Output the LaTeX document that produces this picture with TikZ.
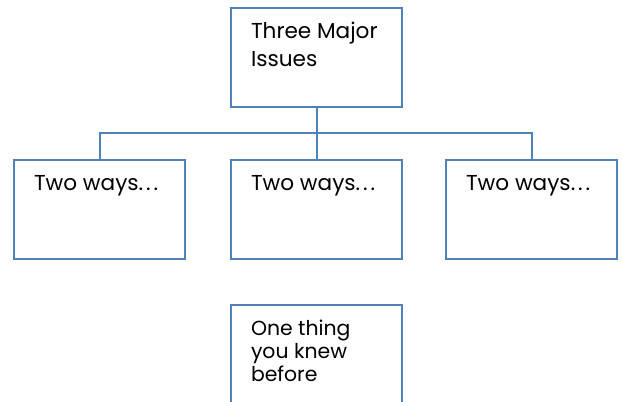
\documentclass[tikz,border=0pt]{standalone}
\usepackage{fontspec}
\setmainfont{Poppins}
\usepackage{tikz}
\usetikzlibrary{calc, positioning}
\definecolor{boxBlue}{HTML}{4F81BD}

\newcommand{\boxtext}[2][54]{\parbox[t][#1pt][t]{98.25pt}{\rule{0pt}{13pt}#2}}
\newcommand{\wdots}{.\kern2.2pt.\kern2.2pt.}

\begin{document}
\begin{tikzpicture}[x=0.75pt, y=-0.75pt]
    \clip (0,0) rectangle (623,402);
    \useasboundingbox (0,0) rectangle (623,402);
    \tikzset{
        issue/.style={draw=boxBlue, line width=1.5pt, rectangle, anchor=north west,
            inner xsep=15pt, inner ysep=10pt, font=\fontsize{16.2}{21}\selectfont},
        link/.style={draw=boxBlue, line width=1.5pt}
    }

    % Boxes
    \node[issue] (top) at (230,7) {\boxtext{Three Major\\Issues}};
    \node[issue] (left) at (13,159) {\boxtext{Two ways\wdots}};
    \node[issue] (mid) at (230,159) {\boxtext{Two ways\wdots}};
    \node[issue] (right) at (445,159) {\boxtext{Two ways\wdots}};
    \node[issue, font=\fontsize{15.3}{17}\selectfont] (bottom) at (230,304) {\boxtext{One thing\\you knew\\before}};

    % Connectors
    \coordinate (bus) at ($(top.south)!0.5!(mid.north)$);
    \draw[link] (top.south) -- (bus) -| (left.north);
    \draw[link] (bus) -| (right.north);
    \draw[link] (bus) -- (mid.north);
\end{tikzpicture}
\end{document}
